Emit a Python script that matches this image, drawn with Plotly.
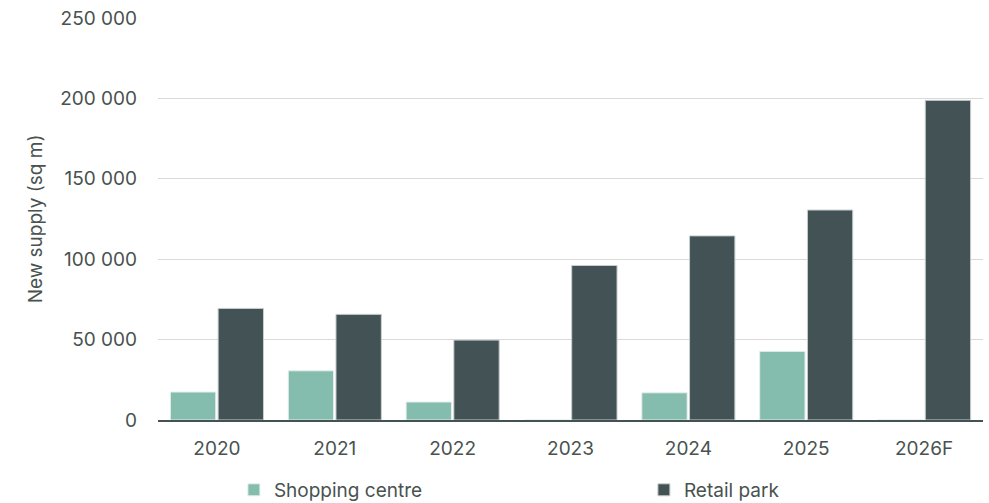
import plotly.graph_objects as go

years = ["2020", "2021", "2022", "2023", "2024", "2025", "2026F"]
shopping_centre = [17400, 30600, 11200, 0, 16900, 42700, 0]
retail_park = [69400, 65700, 49700, 96100, 114500, 130600, 198800]
y_ticks = [0, 50000, 100000, 150000, 200000, 250000]

TEXT = "#48524f"
FONT = "Inter, Roboto, sans-serif"

fig = go.Figure()
fig.add_trace(go.Bar(
    x=years, y=shopping_centre, name="Shopping centre",
    marker=dict(color="#84bcae", line=dict(color="#e6eeec", width=1)),
))
fig.add_trace(go.Bar(
    x=years, y=retail_park, name="Retail park",
    marker=dict(color="#435255", line=dict(color="#c9cfcf", width=1)),
))

fig.update_layout(
    width=989, height=503,
    margin=dict(l=158, r=6, t=18, b=83, autoexpand=False),
    paper_bgcolor="white", plot_bgcolor="white",
    barmode="group", bargap=0.19, bargroupgap=0.05,
    separators=". ",
    font=dict(family=FONT, size=19, color=TEXT),
    showlegend=True,
    legend=dict(
        orientation="h", x=0.092, xanchor="left", y=-0.174, yanchor="middle",
        entrywidth=365, entrywidthmode="pixels", itemwidth=30,
        font=dict(family=FONT, size=19, color=TEXT),
        traceorder="normal",
    ),
    xaxis=dict(
        showgrid=False, showline=True, linecolor="#435255", linewidth=2,
        ticks="", ticklabelstandoff=10,
        tickfont=dict(family=FONT, size=19, color=TEXT),
    ),
    yaxis=dict(
        range=[0, 250000], tickvals=y_ticks, tickformat=",d",
        showgrid=True, gridcolor="#d9d9d9", gridwidth=1,
        zeroline=False, showline=False, ticks="",
        ticklabelstandoff=20,
        tickfont=dict(family=FONT, size=19, color=TEXT),
        title=dict(text="New supply (sq m)", standoff=12,
                   font=dict(family=FONT, size=19, color=TEXT)),
    ),
)

fig.write_html("out.html")
